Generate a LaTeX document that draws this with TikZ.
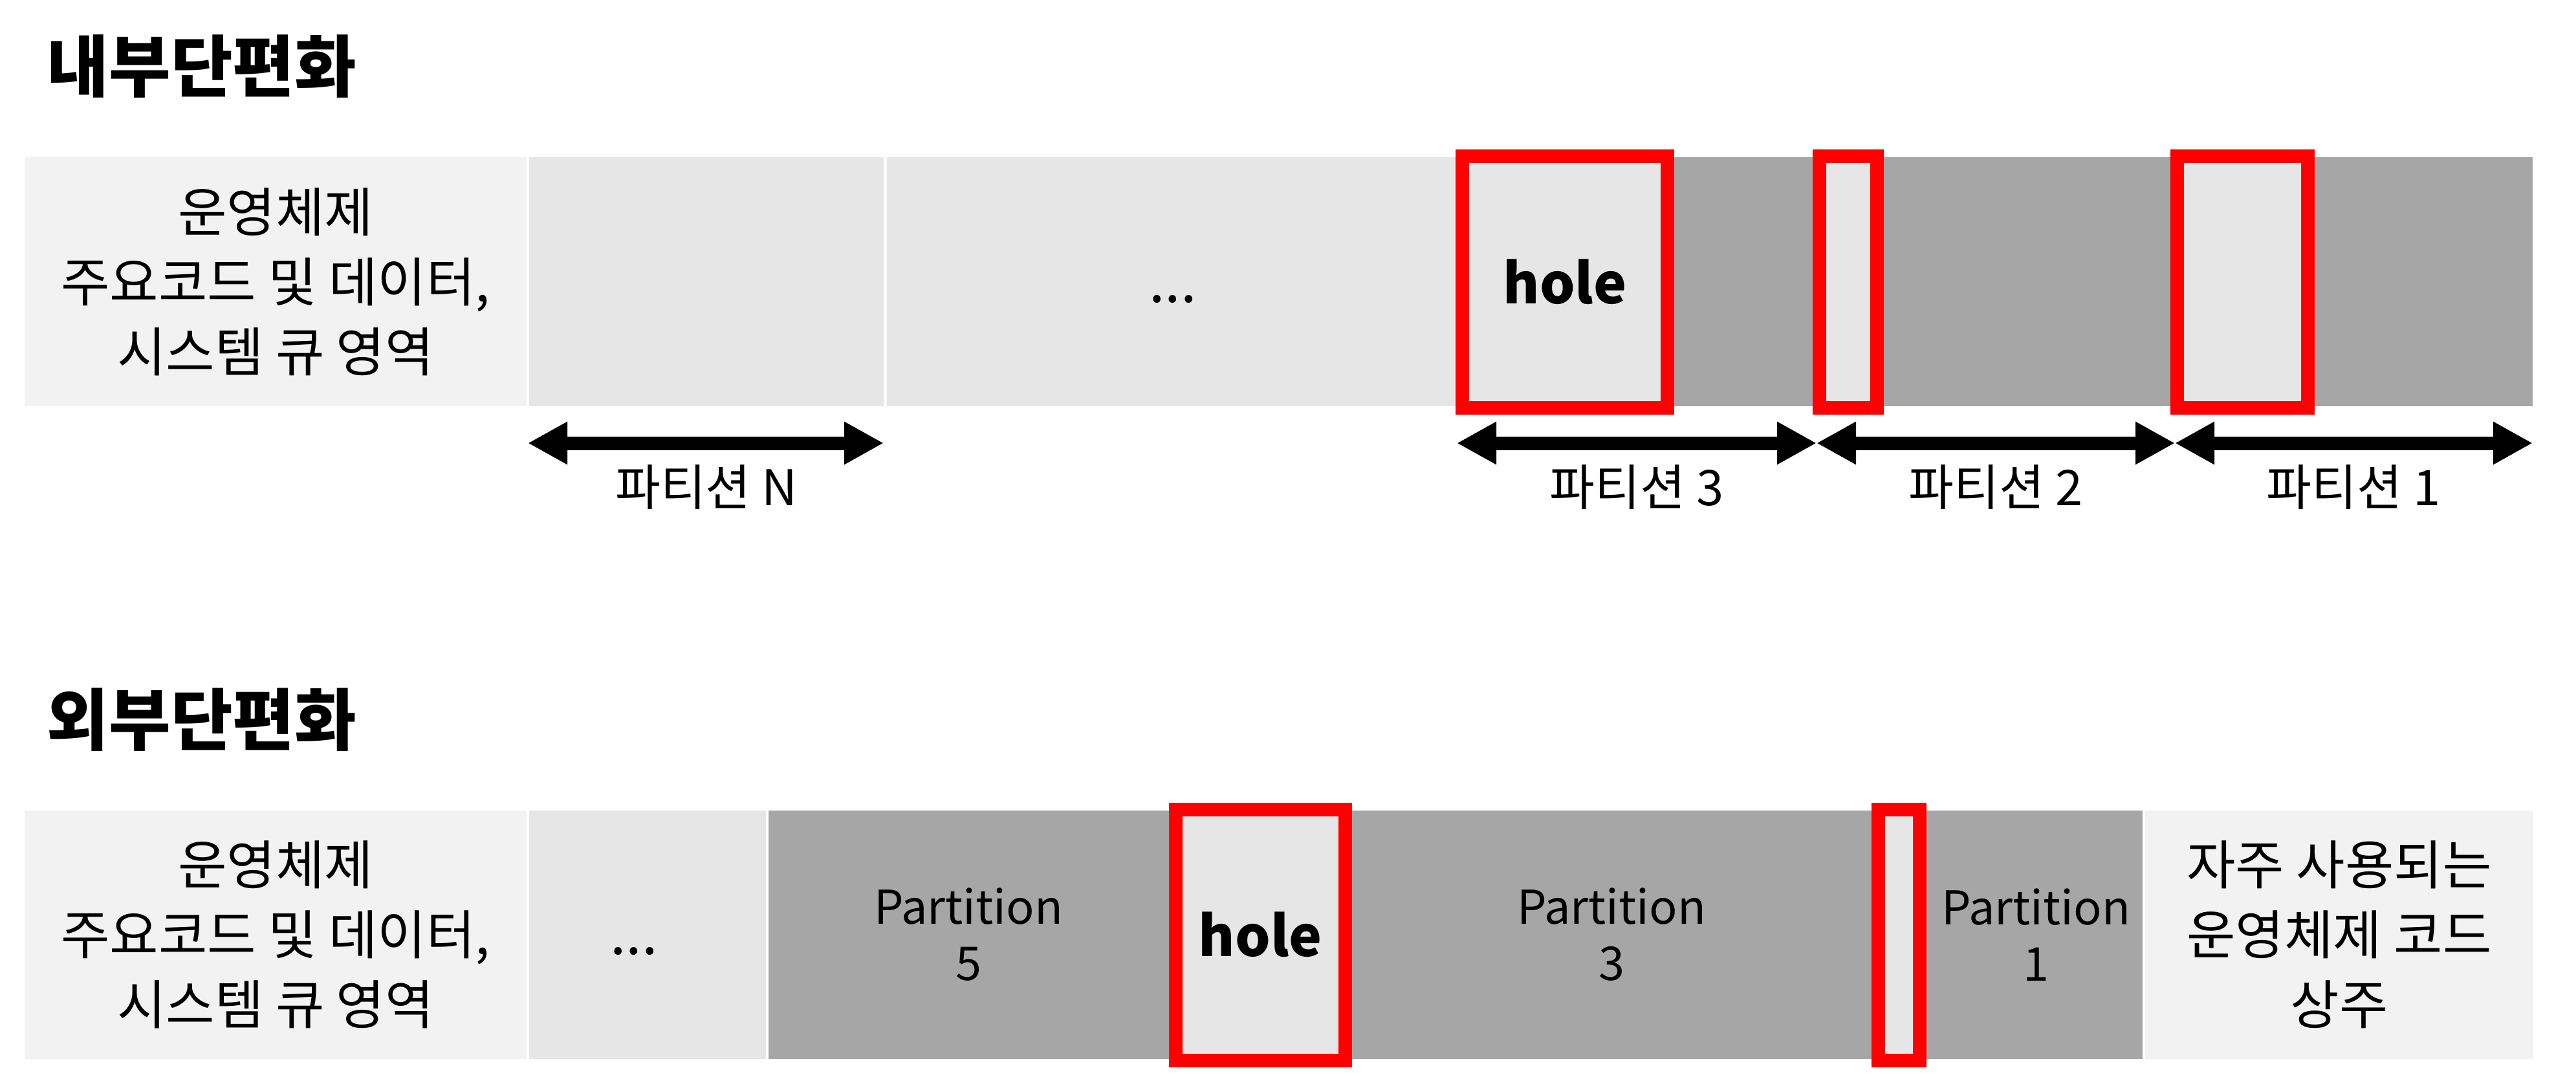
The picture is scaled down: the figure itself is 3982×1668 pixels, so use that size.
\documentclass[tikz,border=0pt]{standalone}
\usepackage{fontspec}
\setmainfont{Noto Sans CJK KR}
\usetikzlibrary{arrows.meta,fit}
\definecolor{osgray}{HTML}{F2F2F2}
\definecolor{lgray}{HTML}{E6E6E6}
\definecolor{dgray}{HTML}{A6A6A6}
\definecolor{hred}{HTML}{FF0000}
\tikzset{
  seg/.style={inner sep=0pt, outer sep=0pt, draw=none},
  body/.style={font=\fontsize{20.5pt}{27pt}\selectfont, align=center, text=black, inner sep=0pt},
  dotstext/.style={font=\fontsize{22pt}{27pt}\selectfont, text=black, inner sep=0pt},
  parttext/.style={font=\fontsize{18pt}{21.75pt}\selectfont, align=center, text=black},
  holebox/.style={draw=hred, line width=5.25pt, fill=lgray, inner sep=0pt, outer sep=0pt},
  holetext/.style={font=\bfseries\fontsize{21.5pt}{26pt}\selectfont, text=black, inner sep=0pt},
  titletext/.style={font=\bfseries\fontsize{26pt}{30pt}\selectfont, anchor=west, inner sep=0pt},
  dimline/.style={line width=5.25pt, {Triangle[length=15.25pt,width=15.5pt]}-{Triangle[length=15.25pt,width=15.5pt]}},
  dimlabel/.style={font=\fontsize{19pt}{23pt}\selectfont, text=black}
}
\begin{document}
\begin{tikzpicture}[x=0.25pt,y=-0.25pt]
\useasboundingbox[fill=white] (0,0) rectangle (3982,1668);

% ---------- internal fragmentation ----------
\node[titletext] (title1) at (72,103) {내부단편화};

\node[seg, fill=osgray, fit={(38,243) (814,628)}] (os1) {};
\node[seg, fill=lgray, fit={(818,243) (1366,628)}] (pn) {};
\node[seg, fill=lgray, fit={(1371,243) (2260,628)}] (dots1) {};
\node[seg, fill=dgray, fit={(2570,243) (3915,628)}] (dark1) {};

\node[holebox, fit={(2260.5,242) (2577.5,630)}] (hole1) {};
\node[holebox, fit={(2812.5,242) (2901.5,630)}] (hole2) {};
\node[holebox, fit={(3365.5,242) (3567.5,630)}] (hole3) {};

\node[body] (os1t) at (os1.center) {운영체제\\주요코드 및 데이터,\\시스템 큐 영역};
\node[dotstext] (dots1t) at (1813,463) {...};
\node[holetext] (hole1t) at (hole1.center) {hole};

\coordinate (aN1) at (816,685);
\coordinate (aN2) at (1366,685);
\coordinate (a3L) at (2252,685);
\coordinate (a32) at (2808,685);
\coordinate (a21) at (3362,685);
\coordinate (a1R) at (3915,685);
\draw[dimline] (aN1) -- (aN2);
\draw[dimline] (a3L) -- (a32);
\draw[dimline] (a32) -- (a21);
\draw[dimline] (a21) -- (a1R);

\node[dimlabel] (lN) at (1092,753) {파티션 N};
\node[dimlabel] (l3) at (2530,753) {파티션 3};
\node[dimlabel] (l2) at (3085,753) {파티션 2};
\node[dimlabel] (l1) at (3638,753) {파티션 1};

% ---------- external fragmentation ----------
\node[titletext] (title2) at (72,1113) {외부단편화};

\node[seg, fill=osgray, fit={(38,1253) (814,1637)}] (os2) {};
\node[seg, fill=lgray, fit={(818,1253) (1184,1637)}] (dots2) {};
\node[seg, fill=dgray, fit={(1188,1253) (3312,1637)}] (dark2) {};
\node[seg, fill=osgray, fit={(3316,1253) (3916,1637)}] (freq) {};

\node[body] (os2t) at (os2.center) {운영체제\\주요코드 및 데이터,\\시스템 큐 영역};
\node[dotstext] (dots2t) at (980,1471) {...};
\node[body] (freqt) at (freq.center) {자주 사용되는\\운영체제 코드\\상주};

\node[parttext] (p5) at (1497,1445) {Partition\\5};
\node[parttext] (p3) at (2491,1445) {Partition\\3};
\node[parttext] (p1) at (3147,1445) {Partition\\1};

\node[holebox, fit={(1817.5,1251) (2079.5,1639)}] (hole4) {};
\node[holebox, fit={(2903.5,1251) (2967.5,1639)}] (hole5) {};
\node[holetext] (hole4t) at (hole4.center) {hole};
\end{tikzpicture}
\end{document}
